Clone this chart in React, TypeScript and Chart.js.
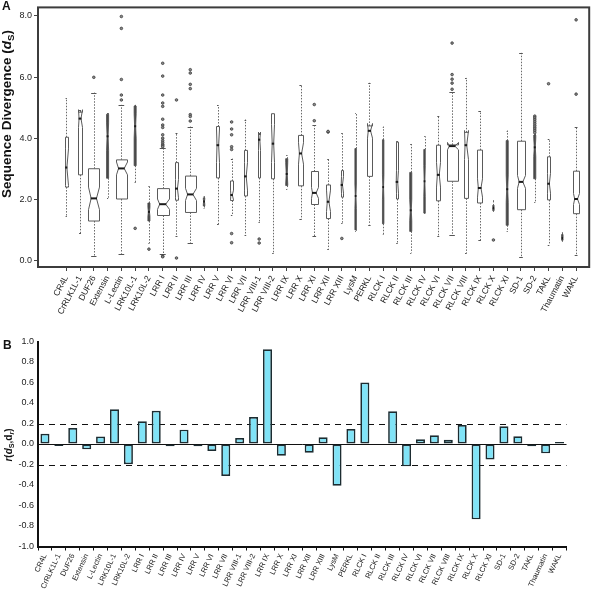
import React, { useEffect, useRef } from 'react';
import { Chart, registerables } from 'chart.js';

Chart.register(...registerables);

const categories = [
  'CR4L', 'CrRLK1L-1', 'DUF26', 'Extensin', 'L-Lectin', 'LRK10L-1', 'LRK10L-2',
  'LRR I', 'LRR II', 'LRR III', 'LRR IV', 'LRR V', 'LRR VI', 'LRR VII',
  'LRR VIII-1', 'LRR VIII-2', 'LRR IX', 'LRR X', 'LRR XI', 'LRR XII', 'LRR XIII',
  'LysM', 'PERKL', 'RLCK I', 'RLCK II', 'RLCK III', 'RLCK IV', 'RLCK VI',
  'RLCK VII', 'RLCK VIII', 'RLCK IX', 'RLCK X', 'RLCK XI', 'SD-1', 'SD-2',
  'TAKL', 'Thaumatin', 'WAKL',
];

// Panel A: box-plot statistics of sequence divergence (dS)
const whiskerLo = [1.47, 0.89, 0.13, 2.05, 0.22, 2.55, 0.57, 0.22, 0.81, 0.56, 1.72, 1.18, 1.50, 0.82, 1.27, 0.25, 2.35, 1.34, 0.79, 0.38, 1.21, 0.97, 1.17, 0.86, 0.56, 0.25, 1.54, 0.79, 0.83, 0.24, 0.67, 1.61, 0.97, 0.10, 1.92, 0.51, 0.63, 0.19];
const q1 = [2.40, 2.80, 1.29, 2.69, 2.01, 3.10, 1.29, 1.47, 1.97, 1.57, 1.78, 2.70, 1.96, 2.11, 2.70, 2.67, 2.45, 2.44, 1.83, 1.37, 2.07, 1.00, 2.75, 1.20, 2.01, 0.95, 1.55, 1.95, 2.59, 2.03, 1.88, 1.63, 1.15, 1.66, 2.67, 1.98, 0.66, 1.53];
const median = [3.04, 4.64, 2.03, 4.06, 3.01, 4.39, 1.59, 1.84, 2.35, 2.16, 1.93, 3.77, 2.14, 2.75, 3.95, 3.82, 2.83, 3.50, 2.21, 1.92, 2.47, 2.11, 4.24, 2.40, 2.57, 1.64, 2.59, 2.80, 3.74, 3.77, 2.37, 1.72, 2.33, 2.57, 3.70, 2.51, 0.73, 2.01];
const q3 = [4.03, 4.85, 3.00, 4.78, 3.29, 5.05, 1.88, 2.35, 3.20, 2.76, 2.05, 4.38, 2.60, 3.60, 4.12, 4.80, 3.33, 4.09, 2.91, 2.47, 2.94, 3.66, 4.40, 3.95, 3.87, 2.88, 3.63, 3.77, 3.78, 4.19, 3.61, 1.80, 3.92, 3.90, 4.10, 3.39, 0.85, 2.92];
const whiskerHi = [5.31, 4.93, 5.49, 4.82, 5.09, 5.09, 2.45, 3.68, 4.16, 4.38, 2.11, 5.07, 3.33, 4.61, 4.16, 4.80, 3.44, 5.74, 4.43, 3.33, 4.16, 4.82, 5.81, 4.38, 3.90, 3.81, 4.06, 4.73, 5.52, 5.97, 4.88, 1.98, 4.25, 6.79, 4.14, 3.97, 0.94, 4.38];
const notchLo = [2.45, 4.35, 1.66, 3.60, 2.80, 4.00, 1.45, 1.67, 2.05, 1.96, 1.85, 3.20, 1.98, 2.30, 3.60, 3.20, 2.50, 3.15, 2.03, 1.60, 2.20, 1.70, 4.00, 2.00, 2.20, 1.30, 2.10, 2.40, 3.62, 3.30, 2.07, 1.68, 1.90, 2.36, 3.40, 2.20, 0.70, 1.83];
const notchHi = [3.65, 4.93, 2.40, 4.50, 3.22, 4.80, 1.73, 2.01, 2.65, 2.36, 2.00, 4.30, 2.30, 3.20, 4.20, 4.45, 3.20, 3.85, 2.39, 2.30, 2.75, 2.50, 4.48, 2.80, 2.95, 2.00, 3.10, 3.20, 3.86, 4.25, 2.67, 1.78, 2.80, 2.78, 4.00, 2.85, 0.76, 2.19];
// group sizes (box width is proportional to sqrt(n))
const groupN = [3, 7, 53, 2, 60, 2, 2, 67, 7, 53, 1, 5, 4, 5, 3, 4, 2, 9, 25, 5, 3, 1, 10, 1, 4, 2, 1, 7, 56, 5, 13, 1, 2, 25, 2, 5, 1, 15];
const outliers: number[][] = [
  [], [], [5.99], [], [7.98, 7.59, 5.92, 5.41, 5.25], [1.05], [0.37],
  [6.45, 6.03, 5.41, 5.15, 5.04, 4.62, 4.43, 4.35, 4.11, 4.0, 3.92, 3.86, 3.8, 3.76, 3.72, 0.14, 0.12],
  [5.25, 0.08], [6.24, 6.13, 5.76, 5.62, 4.77, 4.71, 4.56], [], [],
  [4.53, 4.3, 4.11, 3.72, 3.63, 0.88, 0.58], [], [0.7, 0.57], [], [], [],
  [5.1, 4.57], [4.2, 4.22], [0.72], [], [], [], [], [], [], [],
  [7.11, 6.08, 5.93, 5.8, 5.6], [], [], [0.67], [], [],
  [4.72, 4.66, 4.6, 4.54, 4.48, 4.42, 4.36, 4.3, 4.24, 4.18],
  [5.78], [], [7.87, 5.44],
];
const yTicksA = [0, 2, 4, 6, 8];

// Panel B: correlation r(dS, dr)
const correlation = [0.10, -0.02, 0.156, -0.052, 0.072, 0.338, -0.198, 0.221, 0.325, -0.023, 0.14, -0.023, -0.068, -0.312, 0.059, 0.263, 0.924, -0.114, -0.005, -0.085, 0.065, -0.407, 0.146, 0.60, -0.003, 0.319, -0.218, 0.046, 0.085, 0.042, 0.185, -0.735, -0.15, 0.172, 0.075, -0.023, -0.091, 0.02];
const refLevels = [0.2, -0.2];

const FONT = "'Liberation Sans', Arial, Helvetica, sans-serif";

export default function App() {
  const topRef = useRef<HTMLCanvasElement>(null);
  const botRef = useRef<HTMLCanvasElement>(null);

  useEffect(() => {
    const maxN = Math.max(...groupN);
    const snap = (v: number) => Math.round(v) + 0.5;

    const boxPlugin = {
      id: 'notchedBoxes',
      beforeDatasetsDraw(chart: any) {
        const { ctx, scales } = chart;
        const x = scales.x;
        const y = scales.y;
        const py = (v: number) => y.getPixelForValue(v);
        ctx.save();
        categories.forEach((_, i) => {
          const hw = 0.435 * Math.sqrt(groupN[i] / maxN);
          const xc = snap(x.getPixelForValue(i));
          const rawL = x.getPixelForValue(i - hw);
          const rawR = x.getPixelForValue(i + hw);
          const thin = rawR - rawL < 2.3;
          const xl = thin ? rawL : snap(rawL);
          const xr = thin ? rawR : snap(rawR);
          const xnl = x.getPixelForValue(i - hw / 2);
          const xnr = x.getPixelForValue(i + hw / 2);
          // whiskers
          ctx.lineWidth = 1;
          ctx.strokeStyle = '#6a6a6a';
          ctx.setLineDash([1.5, 1.5]);
          ctx.beginPath();
          ctx.moveTo(xc, py(q3[i]));
          ctx.lineTo(xc, py(whiskerHi[i]));
          ctx.moveTo(xc, py(q1[i]));
          ctx.lineTo(xc, py(whiskerLo[i]));
          ctx.stroke();
          ctx.setLineDash([]);
          ctx.strokeStyle = '#555';
          ctx.beginPath();
          ctx.moveTo(xnl, snap(py(whiskerHi[i])));
          ctx.lineTo(xnr, snap(py(whiskerHi[i])));
          ctx.moveTo(xnl, snap(py(whiskerLo[i])));
          ctx.lineTo(xnr, snap(py(whiskerLo[i])));
          ctx.stroke();
          // notched box
          ctx.beginPath();
          ctx.moveTo(xl, py(q1[i]));
          ctx.lineTo(xl, py(notchLo[i]));
          ctx.lineTo(xnl, py(median[i]));
          ctx.lineTo(xl, py(notchHi[i]));
          ctx.lineTo(xl, py(q3[i]));
          ctx.lineTo(xr, py(q3[i]));
          ctx.lineTo(xr, py(notchHi[i]));
          ctx.lineTo(xnr, py(median[i]));
          ctx.lineTo(xr, py(notchLo[i]));
          ctx.lineTo(xr, py(q1[i]));
          ctx.closePath();
          ctx.fillStyle = thin ? '#4a4a4a' : '#ffffff';
          ctx.fill();
          ctx.strokeStyle = thin ? '#4a4a4a' : '#5a5a5a';
          ctx.lineWidth = thin ? 0.8 : 1;
          ctx.stroke();
          // median
          ctx.lineWidth = 2;
          ctx.strokeStyle = '#1a1a1a';
          ctx.beginPath();
          ctx.moveTo(xnl - 0.5, py(median[i]));
          ctx.lineTo(xnr + 0.5, py(median[i]));
          ctx.stroke();
        });
        ctx.restore();
      },
    };

    const framePlugin = {
      id: 'frame',
      afterDatasetsDraw(chart: any) {
        const { ctx, chartArea: a } = chart;
        ctx.save();
        ctx.strokeStyle = '#3c3c3c';
        ctx.lineWidth = 2;
        ctx.strokeRect(a.left, a.top, a.right - a.left, a.bottom - a.top);
        ctx.restore();
      },
    };

    const outlierPoints = outliers.flatMap((arr, i) => arr.map((v) => ({ x: i, y: v })));

    const top = new Chart(topRef.current as HTMLCanvasElement, {
      type: 'scatter',
      data: {
        datasets: [
          {
            data: outlierPoints,
            pointRadius: 1.3,
            pointBorderWidth: 0.8,
            pointBorderColor: '#3a3a3a',
            pointBackgroundColor: '#8a8a8a',
          } as any,
        ],
      },
      options: {
        animation: false,
        responsive: false,
        events: [],
        layout: { padding: { top: 1, right: 2, left: 0, bottom: 0 } },
        plugins: { legend: { display: false }, tooltip: { enabled: false } },
        scales: {
          x: {
            type: 'linear',
            min: -2.05,
            max: 37.95,
            afterBuildTicks: (s: any) => {
              s.ticks = categories.map((_, i) => ({ value: i }));
            },
            afterFit: (s: any) => {
              s.height = 63;
            },
            ticks: {
              autoSkip: false,
              minRotation: 62,
              maxRotation: 62,
              padding: 3,
              color: '#222',
              font: { family: FONT, size: 8.5 },
              callback: (v: any) => categories[Math.round(Number(v))] ?? '',
            },
            grid: { drawOnChartArea: false, tickLength: 4, color: '#444' },
            border: { display: false },
          },
          y: {
            min: -0.214,
            max: 8.277,
            afterBuildTicks: (s: any) => {
              s.ticks = yTicksA.map((v) => ({ value: v }));
            },
            afterFit: (s: any) => {
              s.width = 38;
            },
            ticks: {
              color: '#222',
              padding: 2,
              font: { family: FONT, size: 9 },
              callback: (v: any) => Number(v).toFixed(1),
            },
            grid: { drawOnChartArea: false, tickLength: 4, color: '#444' },
            border: { display: false },
          },
        },
      } as any,
      plugins: [boxPlugin, framePlugin],
    });

    const refLinePlugin = {
      id: 'refLines',
      beforeDatasetsDraw(chart: any) {
        const { ctx, chartArea: a, scales } = chart;
        const y = scales.y;
        ctx.save();
        ctx.strokeStyle = '#111';
        ctx.lineWidth = 1;
        ctx.setLineDash([6, 5]);
        refLevels.forEach((v) => {
          const p = snap(y.getPixelForValue(v));
          ctx.beginPath();
          ctx.moveTo(a.left, p);
          ctx.lineTo(a.right, p);
          ctx.stroke();
        });
        ctx.setLineDash([]);
        const p0 = snap(y.getPixelForValue(0));
        ctx.beginPath();
        ctx.moveTo(a.left, p0);
        ctx.lineTo(a.right, p0);
        ctx.stroke();
        ctx.restore();
      },
    };

    const bottom = new Chart(botRef.current as HTMLCanvasElement, {
      type: 'bar',
      data: {
        labels: categories,
        datasets: [
          {
            data: correlation,
            backgroundColor: '#80e3f7',
            borderColor: '#1c2c31',
            borderWidth: 1.7,
            borderSkipped: false,
            barPercentage: 0.65,
            categoryPercentage: 1,
          } as any,
        ],
      },
      options: {
        animation: false,
        responsive: false,
        events: [],
        layout: { padding: { top: 11.5, right: 27.5, left: 0, bottom: 0 } },
        plugins: { legend: { display: false }, tooltip: { enabled: false } },
        scales: {
          x: {
            offset: true,
            afterFit: (s: any) => {
              s.height = 51.5;
            },
            ticks: {
              autoSkip: false,
              minRotation: 65,
              maxRotation: 65,
              padding: 2,
              color: '#222',
              font: { family: FONT, size: 7.5 },
            },
            grid: { offset: true, drawOnChartArea: false, tickLength: 4, color: '#111' },
            border: { display: true, color: '#111', width: 2 },
          },
          y: {
            min: -1,
            max: 1,
            afterFit: (s: any) => {
              s.width = 38;
            },
            ticks: {
              stepSize: 0.2,
              color: '#222',
              padding: 4,
              font: { family: FONT, size: 9 },
              callback: (v: any) => (Math.abs(Number(v)) < 1e-9 ? '0.0' : Number(v).toFixed(1)),
            },
            grid: { drawOnChartArea: false, drawTicks: false, color: '#111' },
            border: { display: true, color: '#111', width: 2 },
          },
        },
      } as any,
      plugins: [refLinePlugin],
    });

    return () => {
      top.destroy();
      bottom.destroy();
    };
  }, []);

  const sub: React.CSSProperties = { fontSize: '0.72em', verticalAlign: '-0.28em', lineHeight: 0 };

  return (
    <div style={{ position: 'absolute', left: 0, top: 0, width: 594, height: 598, background: '#fff', fontFamily: FONT, color: '#111' }}>
      <canvas ref={topRef} width={594} height={330} style={{ position: 'absolute', left: 0, top: 0, width: 594, height: 330 }} />
      <canvas ref={botRef} width={594} height={268} style={{ position: 'absolute', left: 0, top: 330, width: 594, height: 268 }} />
      <div style={{ position: 'absolute', left: 2, top: 0, fontWeight: 'bold', fontSize: 12, lineHeight: 1 }}>A</div>
      <div style={{ position: 'absolute', left: 3, top: 338.5, fontWeight: 'bold', fontSize: 12, lineHeight: 1 }}>B</div>
      <div
        style={{
          position: 'absolute', left: 7, top: 114, whiteSpace: 'nowrap', fontWeight: 'bold', fontSize: 13.5, lineHeight: 1,
          transform: 'translate(-50%, -50%) rotate(-90deg)',
        }}
      >
        Sequence Divergence (<i>d</i><span style={sub}>S</span>)
      </div>
      <div
        style={{
          position: 'absolute', left: 8.5, top: 445, whiteSpace: 'nowrap', fontWeight: 'bold', fontSize: 10, lineHeight: 1,
          transform: 'translate(-50%, -50%) rotate(-90deg)',
        }}
      >
        <i>r</i>(<i>d</i><span style={sub}>S</span>,d<span style={sub}><i>r</i></span>)
      </div>
    </div>
  );
}
